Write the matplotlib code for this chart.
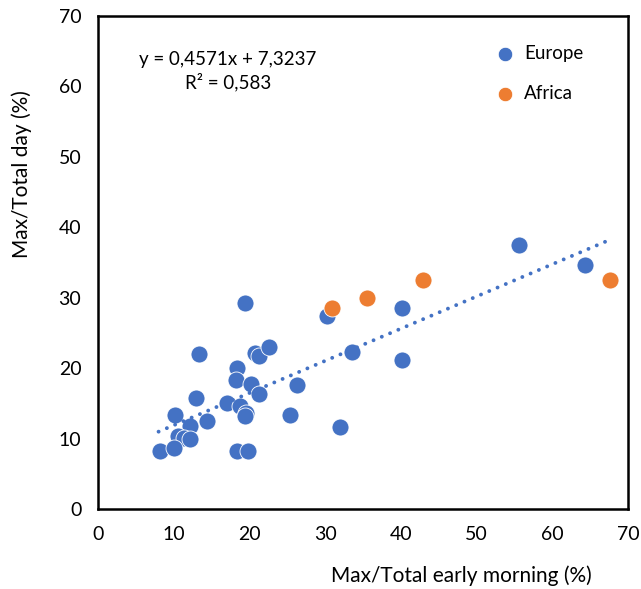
import numpy as np
import matplotlib.pyplot as plt

plt.rcParams['font.family'] = ['Lato', 'DejaVu Sans']

# Europe points (Max/Total early morning %, Max/Total day %)
europe_x = [19.4, 30.2, 13.4, 20.8, 21.3, 22.6, 33.5, 18.4, 18.2, 20.2,
            21.3, 26.3, 12.9, 17.0, 18.7, 19.5, 19.4, 10.2, 14.4, 25.3,
            12.2, 32.0, 10.6, 11.4, 12.2, 8.2, 10.0, 18.4, 19.8, 55.6,
            64.3, 40.1, 40.1]
europe_y = [29.3, 27.4, 22.0, 22.1, 21.7, 23.0, 22.3, 20.0, 18.3, 17.7,
            16.3, 17.6, 15.7, 15.1, 14.6, 13.7, 13.2, 13.4, 12.5, 13.3,
            11.8, 11.6, 10.4, 10.1, 9.9, 8.3, 8.6, 8.3, 8.3, 37.5,
            34.7, 28.6, 21.2]

africa_x = [30.9, 35.5, 42.9, 67.6]
africa_y = [28.6, 30.0, 32.5, 32.5]

slope, intercept = 0.4571, 7.3237
fit_range = [8.0, 67.6]

fig = plt.figure(figsize=(6.41, 5.89), dpi=100)
ax = fig.add_axes([98 / 641, 1 - 509 / 589, 530 / 641, 493 / 589])

blue = '#4472C4'
orange = '#ED7D31'

# linear trend, dotted
xs = np.array(fit_range)
ax.plot(xs, slope * xs + intercept, color=blue, linestyle=(0, (0.01, 2.3)),
        linewidth=2.8, dash_capstyle='round', zorder=3)

ax.scatter(europe_x, europe_y, s=150, color=blue, edgecolors='white',
           linewidths=0.6, zorder=2, label='Europe')
ax.scatter(africa_x, africa_y, s=150, color=orange, edgecolors='white',
           linewidths=0.6, zorder=2, label='Africa')

ax.set_xlim(0, 70)
ax.set_ylim(0, 70)
ax.set_xticks(range(0, 71, 10))
ax.set_yticks(range(0, 71, 10))
ax.tick_params(length=0, labelsize=14, pad=12)
for s in ax.spines.values():
    s.set_linewidth(1.8)

ax.set_xlabel('Max/Total early morning (%)', fontsize=15)
ax.xaxis.set_label_coords(0.685, -0.115)
ax.set_ylabel('Max/Total day (%)', fontsize=15)
ax.yaxis.set_label_coords(-0.125, 0.68)

ax.text(0.245, 0.912, 'y = 0,4571x + 7,3237', transform=ax.transAxes,
        fontsize=13.5, ha='center', va='center')
ax.text(0.245, 0.867, 'R² = 0,583', transform=ax.transAxes,
        fontsize=13.5, ha='center', va='center')

ax.legend(loc='upper left', bbox_to_anchor=(0.7, 0.975), frameon=False,
          fontsize=13.5, handletextpad=0.05, labelspacing=1.2,
          markerscale=0.85)

fig.savefig('out.png', dpi=100)
